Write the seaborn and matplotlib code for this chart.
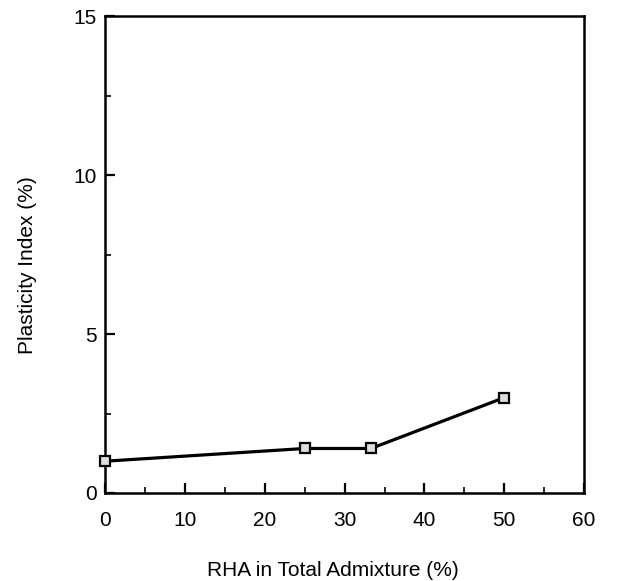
import matplotlib
matplotlib.use("Agg")
import matplotlib.pyplot as plt
import seaborn as sns
import pandas as pd
from matplotlib.ticker import MultipleLocator

rha = [0, 25, 33.3, 50]
plasticity = [1.0, 1.4, 1.4, 3.0]
x_ticks = [0, 10, 20, 30, 40, 50, 60]
y_ticks = [0, 5, 10, 15]

sns.set_theme(style="white")
plt.rcParams['font.family'] = ['Liberation Sans', 'DejaVu Sans']

df = pd.DataFrame({"RHA": rha, "PI": plasticity})

fig = plt.figure(figsize=(6.26, 5.81), dpi=100)
ax = fig.add_axes([0.168, 0.1515, 0.765, 0.8205])

sns.lineplot(data=df, x="RHA", y="PI", ax=ax, color="black", linewidth=2.3,
             marker="s", markersize=7, markerfacecolor="#dddddd",
             markeredgecolor="black", markeredgewidth=1.6, clip_on=False, zorder=5)

ax.set_xlim(0, 60)
ax.set_ylim(0, 15)
ax.set_xticks(x_ticks)
ax.set_yticks(y_ticks)
ax.xaxis.set_minor_locator(MultipleLocator(5))
ax.yaxis.set_minor_locator(MultipleLocator(2.5))
ax.tick_params(axis="both", which="major", direction="in", length=7, width=1.6,
               labelsize=15, colors="black", top=False, right=False, bottom=True, left=True)
ax.tick_params(axis="x", which="major", pad=13)
ax.tick_params(axis="y", which="major", pad=6)
ax.tick_params(axis="both", which="minor", direction="in", length=4, width=1.4,
               top=False, right=False, bottom=True, left=True)
for s in ax.spines.values():
    s.set_visible(True)
    s.set_color("black")
    s.set_linewidth(1.8)

ax.set_xlabel("RHA in Total Admixture (%)", fontsize=15, color="black")
ax.set_ylabel("Plasticity Index (%)", fontsize=15, color="black")
ax.xaxis.set_label_coords(0.476, -0.163)
ax.xaxis.label.set_va("center")
ax.yaxis.set_label_coords(-0.163, 0.478)
ax.yaxis.label.set_va("center")

fig.savefig("out.png", dpi=100)
